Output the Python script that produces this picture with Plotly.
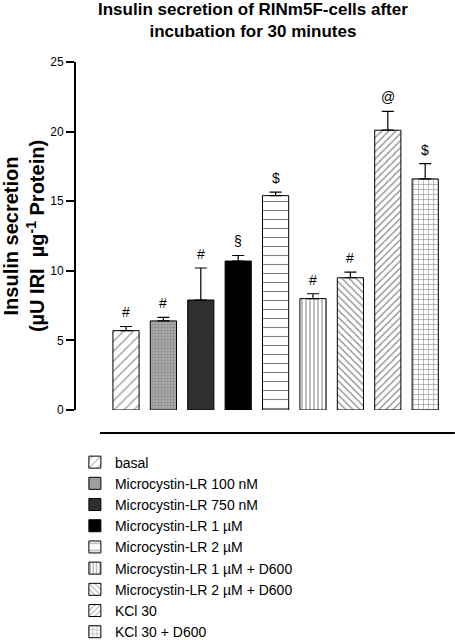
import plotly.graph_objects as go

# ---- data ----
categories = ["basal", "Microcystin-LR 100 nM", "Microcystin-LR 750 nM",
              "Microcystin-LR 1 µM", "Microcystin-LR 2 µM",
              "Microcystin-LR 1 µM + D600", "Microcystin-LR 2 µM + D600",
              "KCl 30", "KCl 30 + D600"]
values = [5.7, 6.4, 7.9, 10.7, 15.4, 8.0, 9.5, 20.1, 16.6]
errors = [0.3, 0.25, 2.3, 0.4, 0.25, 0.35, 0.4, 1.35, 1.1]
marks = ["#", "#", "#", "§", "$", "#", "#", "@", "$"]
y_ticks = [0, 5, 10, 15, 20, 25]

# ---- styles ----
styles = [
    dict(color="white", pattern=dict(shape="/", fgcolor="black", bgcolor="white", size=7, solidity=0.15)),
    dict(color="#9a9a9a", pattern=dict(shape="+", fgcolor="#6a6a6a", bgcolor="#a8a8a8", size=3, solidity=0.3)),
    dict(color="#2a2a2a", pattern=dict(shape="x", fgcolor="#111111", bgcolor="#333333", size=3, solidity=0.3)),
    dict(color="black"),
    dict(color="white", pattern=dict(shape="-", fgcolor="black", bgcolor="white", size=9, solidity=0.12)),
    dict(color="white", pattern=dict(shape="|", fgcolor="black", bgcolor="white", size=4, solidity=0.25)),
    dict(color="white", pattern=dict(shape="\\", fgcolor="black", bgcolor="white", size=5, solidity=0.22)),
    dict(color="white", pattern=dict(shape="/", fgcolor="black", bgcolor="white", size=5, solidity=0.22)),
    dict(color="white", pattern=dict(shape="+", fgcolor="black", bgcolor="white", size=5, solidity=0.2)),
]

FONT = "Arial, Liberation Sans, sans-serif"

fig = go.Figure()
for i, (name, v, e, st) in enumerate(zip(categories, values, errors, styles)):
    fig.add_trace(go.Bar(
        x=[i], y=[v], name=name, width=0.7, legendgroup=name,
        marker=dict(line=dict(color="black", width=1), **st),
        error_y=dict(type="data", array=[e], arrayminus=[0], symmetric=False,
                     color="black", thickness=1.2, width=6),
    ))

for i, (v, e, m) in enumerate(zip(values, errors, marks)):
    fig.add_annotation(x=i, y=v + e, text=m, showarrow=False, yanchor="bottom",
                       yshift=4, font=dict(family=FONT, size=14, color="black"))

# title as annotation
fig.add_annotation(xref="paper", yref="paper", x=0.473, y=1.118, xanchor="center",
                   yanchor="middle", showarrow=False,
                   text="<b>Insulin secretion of RINm5F-cells after<br>incubation for 30 minutes</b>",
                   font=dict(size=17, family=FONT, color="black"))

fig.add_shape(type="line", xref="paper", yref="paper", x0=0.064, x1=1.013,
              y0=-0.066, y1=-0.066, line=dict(color="black", width=2))

fig.update_layout(
    width=455, height=640,
    margin=dict(l=76, r=5, t=62, b=230, autoexpand=False),
    paper_bgcolor="white", plot_bgcolor="white",
    barmode="overlay",
    font=dict(family=FONT, color="black"),
    xaxis=dict(visible=False, range=[-1.337, 8.663]),
    yaxis=dict(range=[0, 25], tickvals=y_ticks, ticks="outside", ticklen=8, tickwidth=1.5,
               tickcolor="black", showline=True, linecolor="black", linewidth=2,
               showgrid=False, zeroline=False, tickfont=dict(size=12, family=FONT),
               automargin=False,
               title=dict(text="<b>Insulin secretion<br>(µU IRI  µg<sup>-1</sup> Protein)</b>",
                          font=dict(size=20, family=FONT), standoff=1)),
    showlegend=True,
    legend=dict(x=-0.003, xanchor="left", y=-0.105, yanchor="top", traceorder="normal",
                font=dict(size=14, family=FONT), bgcolor="rgba(0,0,0,0)",
                tracegroupgap=0.6, itemclick=False),
)

fig.write_html("out.html", config={"displayModeBar": False},
               post_script="document.body.style.margin='0px';document.body.style.overflow='hidden';")
